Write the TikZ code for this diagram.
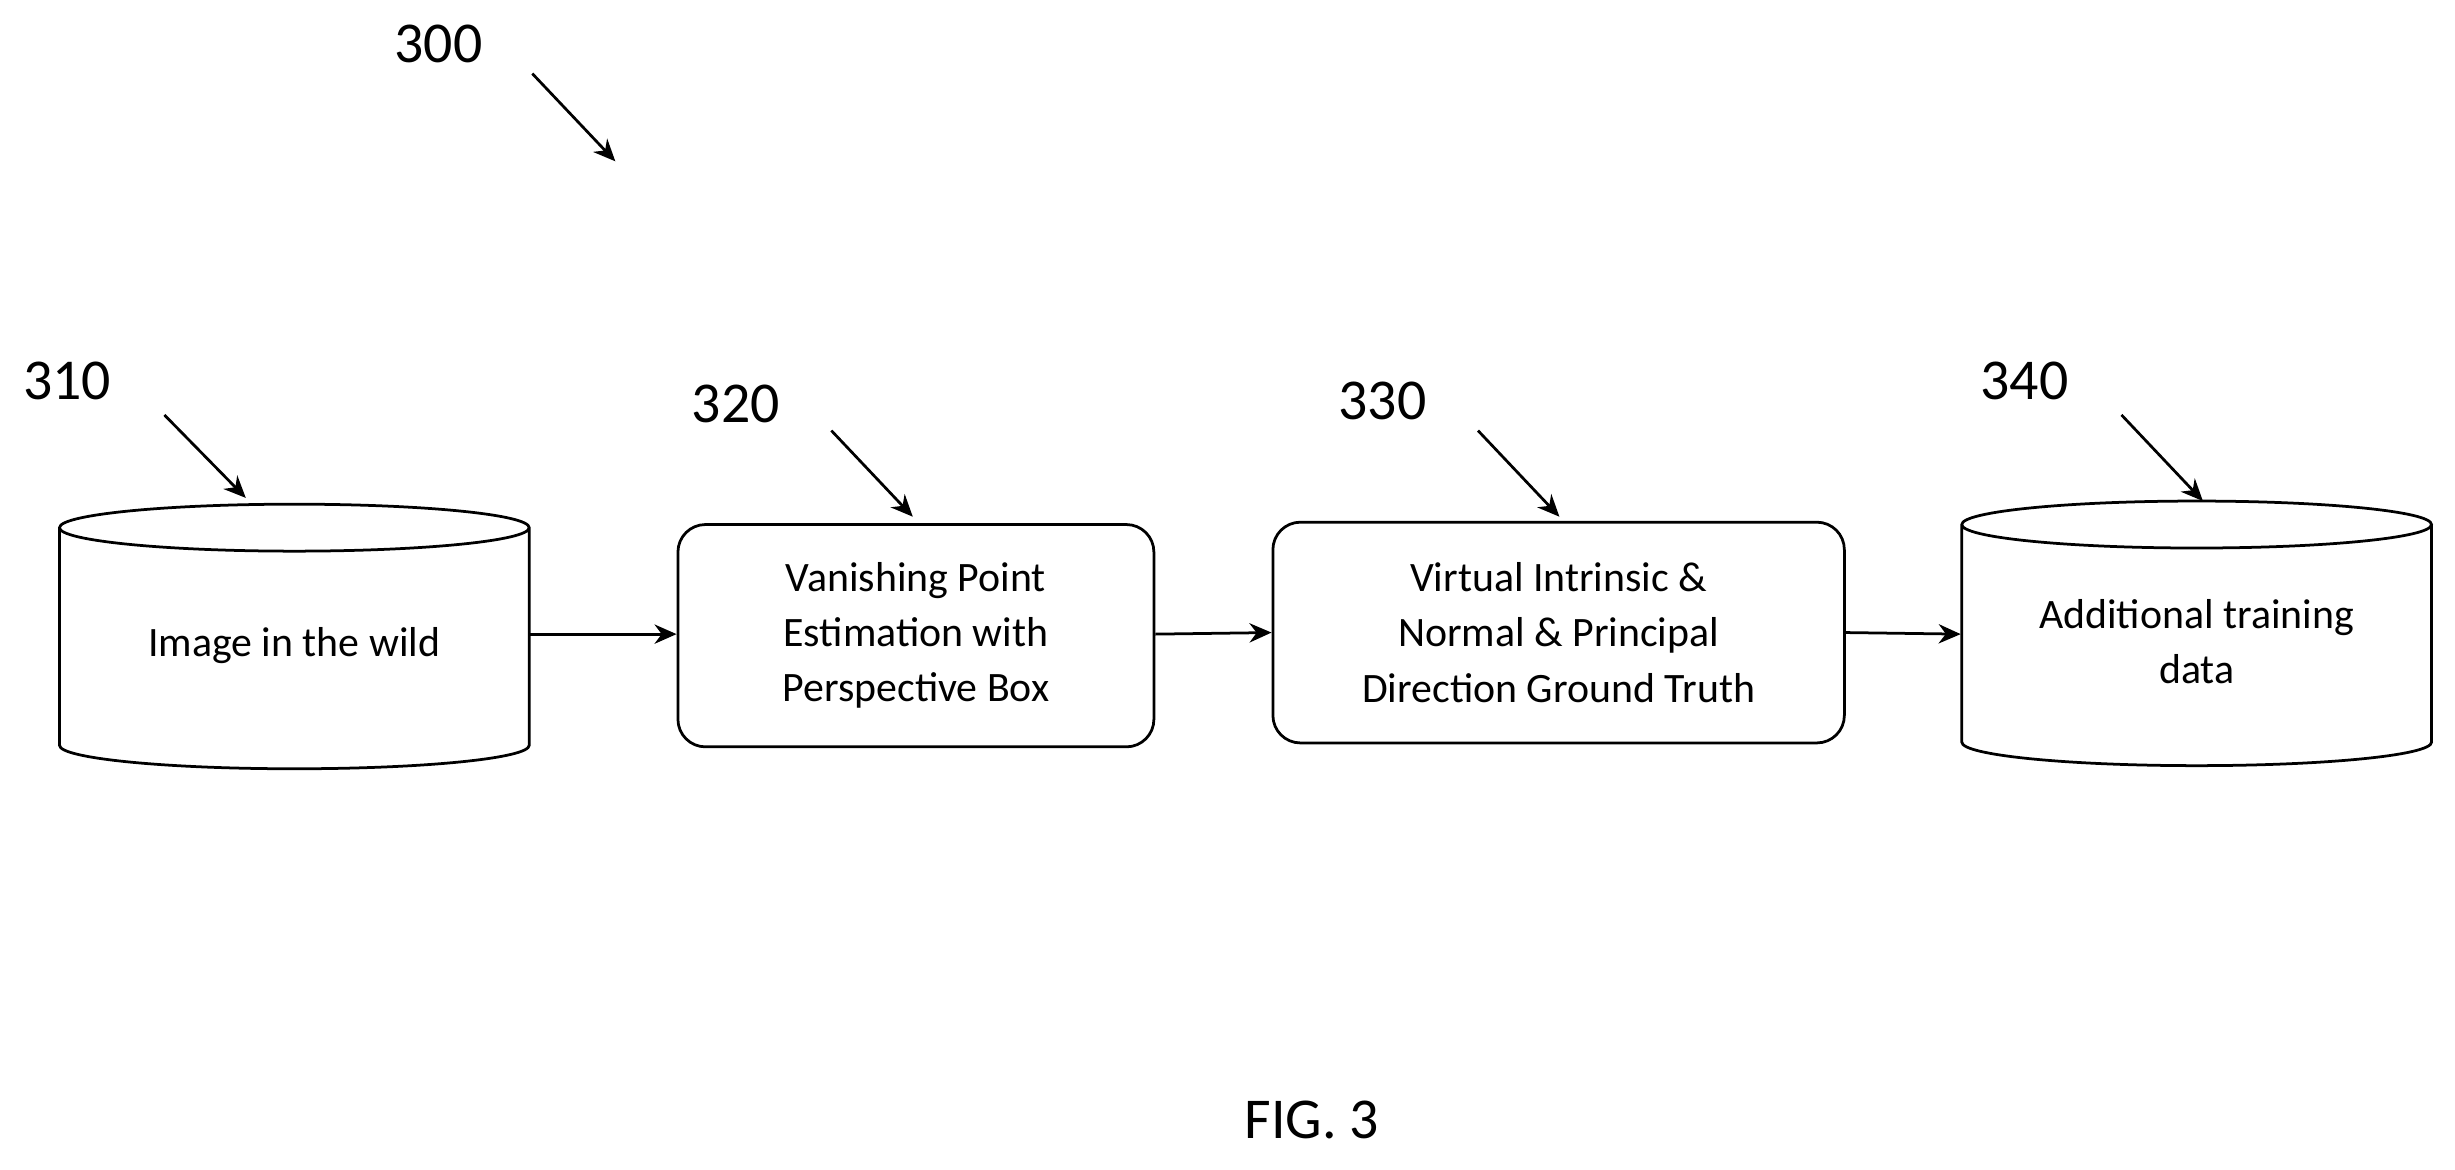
\documentclass[tikz,border=0pt]{standalone}
\usepackage{fontspec}
\setmainfont{Carlito}
\usetikzlibrary{arrows.meta}
\begin{document}
\begin{tikzpicture}[x=0.01cm,y=-0.01cm,
  box/.style={draw,line width=0.5pt,rounded corners=5pt,align=center,font=\fontsize{7.6}{10}\selectfont,inner sep=0pt},
  cyl/.style={align=center,font=\fontsize{7.6}{10}\selectfont,inner sep=0pt},
  lab/.style={font=\fontsize{10.5}{12}\selectfont},
  arr/.style={-{Stealth[length=4pt,width=3.5pt]},line width=0.5pt}]
\useasboundingbox (0,0) rectangle (1568,747);
% cylinders
\foreach \n/\xa/\xb/\yt/\yb in {c1/38/338/337/476, c4/1253/1553/335/474}{
  \pgfmathsetmacro\cx{(\xa+\xb)/2}
  \pgfmathsetmacro\rx{(\xb-\xa)/2}
  \draw[line width=0.5pt] (\xa,\yt) arc[start angle=180,end angle=540,x radius=\rx*0.01cm,y radius=15*0.01cm]
     -- (\xa,\yb) arc[start angle=180,end angle=360,x radius=\rx*0.01cm,y radius=15*0.01cm] -- (\xb,\yt);
}
\node[cyl,minimum width=300*0.01cm,minimum height=150*0.01cm] (c1) at (188,412) {Image in the wild};
\node[cyl,minimum width=300*0.01cm,minimum height=150*0.01cm] (c4) at (1403,410) {Additional training\\data};
\node[box,minimum width=304*0.01cm,minimum height=142*0.01cm] (b2) at (585,406) {Vanishing Point\\Estimation with\\Perspective Box};
\node[box,minimum width=365*0.01cm,minimum height=141*0.01cm] (b3) at (995.5,404) {Virtual Intrinsic \&\\Normal \& Principal\\Direction Ground Truth};
\draw[arr] (c1.east|-0,405) -- (b2.west|-0,405);
\draw[arr] (b2.east|-0,405) -- (b3.west|-0,404);
\draw[arr] (b3.east|-0,404) -- (c4.west|-0,405);
% labels
\node[lab] (l300) at (280,28) {300};
\node[lab] (l310) at (43,243) {310};
\node[lab] (l320) at (470,258) {320};
\node[lab] (l330) at (883,256) {330};
\node[lab] (l340) at (1293,243) {340};
\coordinate (p300) at (393,103);
\draw[arr] (340,47) -- (p300);
\draw[arr] (105,265) -- (157,318);
\draw[arr] (531,275) -- (583,330);
\draw[arr] (944,275) -- (996,330);
\draw[arr] (1355,265) -- (1407,320);
\node[lab] (fig) at (838,715) {FIG. 3};
\end{tikzpicture}
\end{document}
